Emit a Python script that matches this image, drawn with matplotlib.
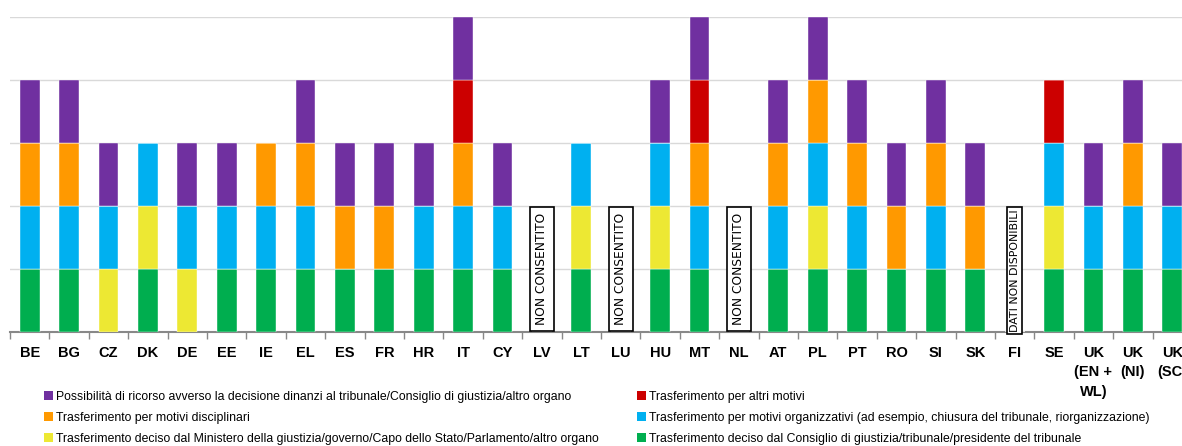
import matplotlib
matplotlib.use("Agg")
import matplotlib.pyplot as plt
from matplotlib import font_manager
from matplotlib.patches import Patch
import numpy as np

names = {f.name for f in font_manager.fontManager.ttflist}
FONT = "Liberation Sans Narrow" if "Liberation Sans Narrow" in names else "Liberation Sans"
plt.rcParams['font.family'] = [FONT, 'DejaVu Sans']

countries = ["BE", "BG", "CZ", "DK", "DE", "EE", "IE", "EL", "ES", "FR", "HR", "IT", "CY",
             "LV", "LT", "LU", "HU", "MT", "NL", "AT", "PL", "PT", "RO", "SI", "SK", "FI",
             "SE", "UK\n(EN +\nWL)", "UK\n(NI)", "UK\n(SC)"]

consiglio = [1, 1, 0, 1, 0, 1, 1, 1, 1, 1, 1, 1, 1, 0, 1, 0, 1, 1, 0, 1, 1, 1, 1, 1, 1, 0, 1, 1, 1, 1]
ministero = [0, 0, 1, 1, 1, 0, 0, 0, 0, 0, 0, 0, 0, 0, 1, 0, 1, 0, 0, 0, 1, 0, 0, 0, 0, 0, 1, 0, 0, 0]
organizzativi = [1, 1, 1, 1, 1, 1, 1, 1, 0, 0, 1, 1, 1, 0, 1, 0, 1, 1, 0, 1, 1, 1, 0, 1, 0, 0, 1, 1, 1, 1]
disciplinari = [1, 1, 0, 0, 0, 0, 1, 1, 1, 1, 0, 1, 0, 0, 0, 0, 0, 1, 0, 1, 1, 1, 1, 1, 1, 0, 0, 0, 1, 0]
altri = [0, 0, 0, 0, 0, 0, 0, 0, 0, 0, 0, 1, 0, 0, 0, 0, 0, 1, 0, 0, 0, 0, 0, 0, 0, 0, 1, 0, 0, 0]
ricorso = [1, 1, 1, 0, 1, 1, 0, 1, 1, 1, 1, 1, 1, 0, 0, 0, 1, 1, 0, 1, 1, 1, 1, 1, 1, 0, 0, 1, 1, 1]

notes = {"LV": "NON CONSENTITO", "LU": "NON CONSENTITO", "NL": "NON CONSENTITO",
         "FI": "DATI NON DISPONIBILI"}

labels = {
    "consiglio": "Trasferimento deciso dal Consiglio di giustizia/tribunale/presidente del tribunale",
    "ministero": "Trasferimento deciso dal Ministero della giustizia/governo/Capo dello Stato/Parlamento/altro organo",
    "organizzativi": "Trasferimento per motivi organizzativi (ad esempio, chiusura del tribunale, riorganizzazione)",
    "disciplinari": "Trasferimento per motivi disciplinari",
    "altri": "Trasferimento per altri motivi",
    "ricorso": "Possibilità di ricorso avverso la decisione dinanzi al tribunale/Consiglio di giustizia/altro organo",
}
colors = {
    "consiglio": "#00AE4F",
    "ministero": "#EDE833",
    "organizzativi": "#00B0F0",
    "disciplinari": "#FF9900",
    "altri": "#CC0000",
    "ricorso": "#7030A0",
}
series = [("consiglio", consiglio), ("ministero", ministero), ("organizzativi", organizzativi),
          ("disciplinari", disciplinari), ("altri", altri), ("ricorso", ricorso)]

W, H = 1182, 446
fig = plt.figure(figsize=(W / 100, H / 100), dpi=100)
ax = fig.add_axes([10 / W, 1 - 332 / H, 1182 / W, (332 - 17) / H])

x = np.arange(len(countries))
bottom = np.zeros(len(countries))
for key, vals in series:
    v = np.array(vals, dtype=float)
    ax.bar(x, v, bottom=bottom, width=0.5, color=colors[key], edgecolor="white",
           linewidth=0.3, zorder=3)
    bottom += v

for c, txt in notes.items():
    i = countries.index(c)
    fi = txt.startswith("DATI")
    ax.text(i, 0.98 if fi else 1.0, txt, rotation=90, ha="center", va="center",
            fontsize=7.9 if fi else 8.8,
            family=["DejaVu Sans"], zorder=4,
            bbox=dict(boxstyle="square,pad=%s" % ("0.22" if fi else "0.45"),
                      facecolor="white", edgecolor="black", linewidth=1.2))

ax.set_xlim(-0.5, len(countries) - 0.5)
ax.set_ylim(0, 5)
ax.set_yticks(np.arange(1, 6))
ax.yaxis.grid(True, color="#D9D9D9", linewidth=1.0, zorder=0)
ax.tick_params(axis="y", left=False, labelleft=False)
ax.set_xticks(x)
ax.set_xticklabels(countries, fontsize=10.5, fontweight="bold", linespacing=1.5)
ax.set_xticks(np.arange(-0.5, len(countries)), minor=True)
ax.tick_params(axis="x", which="major", length=0, pad=10)
ax.tick_params(axis="x", which="minor", length=5, color="#888888", width=1.0)
for s in ["top", "right", "left"]:
    ax.spines[s].set_visible(False)
ax.spines["bottom"].set_color("#888888")
ax.spines["bottom"].set_linewidth(1.5)
ax.set_axisbelow(True)

col1 = ["ricorso", "disciplinari", "ministero"]
col2 = ["altri", "organizzativi", "consiglio"]
for keys, xa in [(col1, 44 / W), (col2, 637 / W)]:
    handles = [Patch(facecolor=colors[k], edgecolor="none") for k in keys]
    fig.legend(handles, [labels[k] for k in keys], loc="upper left",
               bbox_to_anchor=(xa, 1 - 391 / H), frameon=False, fontsize=8.8,
               handlelength=0.7, handleheight=0.7, handletextpad=0.3,
               labelspacing=0.72, borderpad=0, borderaxespad=0)

fig.savefig("out.png", dpi=100)
